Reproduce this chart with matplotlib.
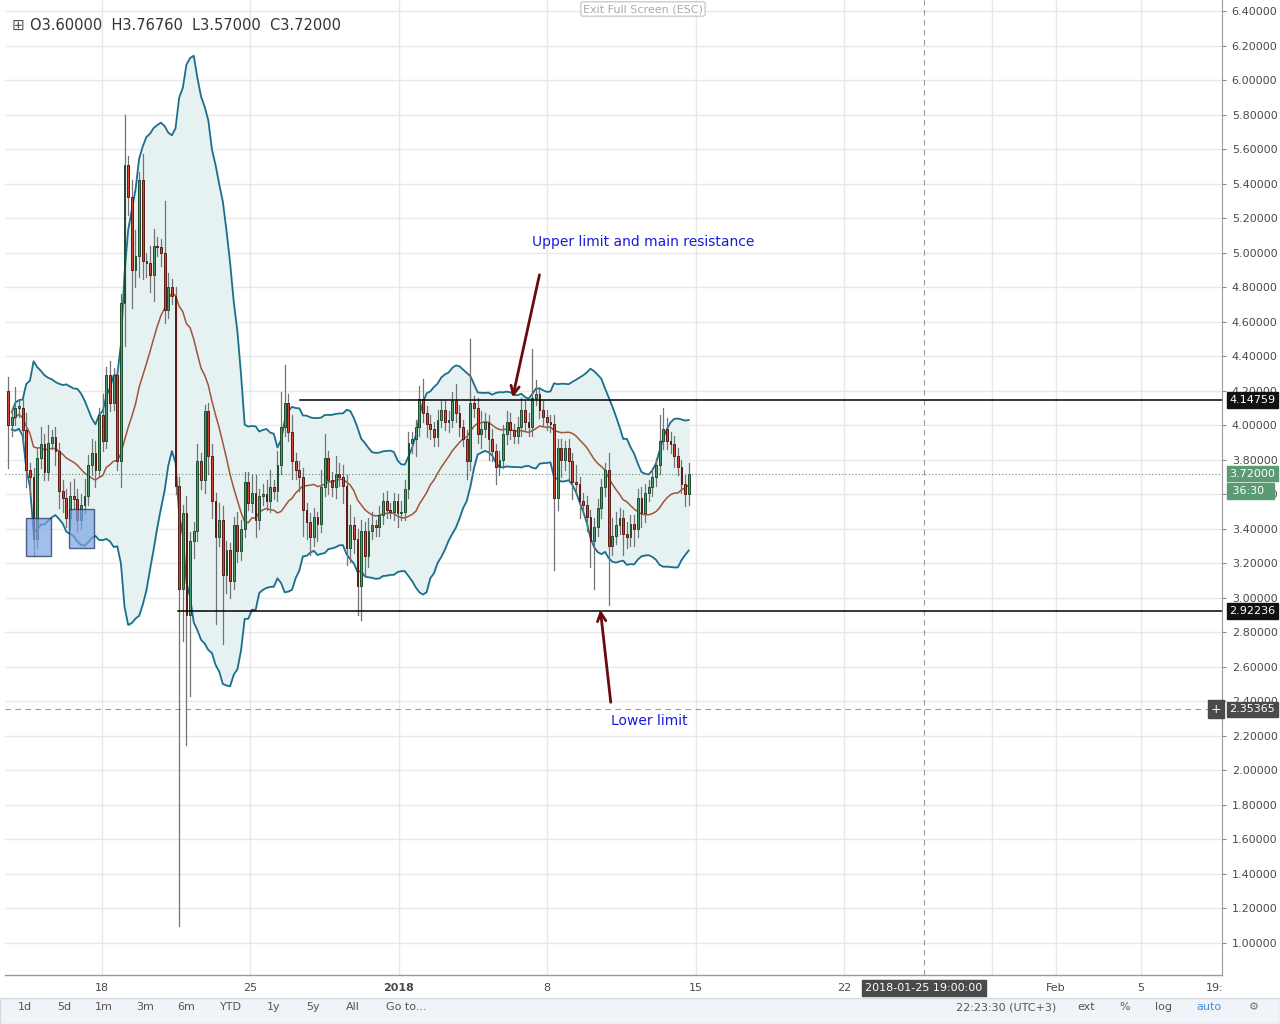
import numpy as np
import pandas as pd
import matplotlib
matplotlib.use("Agg")
import matplotlib.pyplot as plt
from matplotlib.patches import Rectangle
from matplotlib.transforms import blended_transform_factory as btf

first_open = 4.20
closes = [4.00,4.05,4.10,4.10,3.97,3.74,3.70,3.34,3.81,3.89,
          3.73,3.90,3.93,3.85,3.62,3.58,3.46,3.59,3.57,3.45,
          3.54,3.59,3.77,3.84,3.74,4.06,3.91,4.29,4.13,4.29,
          3.79,4.71,5.51,5.32,4.90,4.98,5.42,4.95,4.94,4.87,
          5.04,5.03,5.00,4.67,4.80,4.75,3.65,3.05,3.49,2.90,
          3.33,3.39,3.79,3.68,4.08,3.82,3.56,3.35,3.45,3.13,
          3.28,3.10,3.42,3.27,3.40,3.67,3.55,3.61,3.45,3.59,
          3.60,3.56,3.64,3.62,3.77,3.99,4.13,3.96,3.79,3.74,
          3.70,3.51,3.44,3.35,3.47,3.43,3.64,3.81,3.68,3.64,
          3.72,3.70,3.65,3.29,3.42,3.34,3.07,3.39,3.24,3.39,
          3.42,3.41,3.48,3.56,3.51,3.50,3.56,3.49,3.50,3.63,
          3.90,3.92,3.99,4.15,4.07,4.01,3.98,3.93,4.03,4.09,
          4.02,4.03,4.14,4.07,3.99,3.92,3.79,4.13,4.10,3.95,
          3.98,4.02,3.92,3.85,3.76,3.80,3.95,4.02,3.97,3.94,
          3.99,4.09,4.02,3.99,4.16,4.18,4.09,4.05,4.02,4.01,
          3.58,3.87,3.80,3.87,3.79,3.67,3.66,3.56,3.54,3.47,
          3.33,3.41,3.52,3.64,3.74,3.30,3.36,3.42,3.46,3.37,
          3.35,3.43,3.40,3.58,3.49,3.61,3.64,3.70,3.77,3.91,
          3.98,3.91,3.89,3.82,3.76,3.66,3.60,3.72]
upper_wick = [.08,.05,.12,.05,.06,.10,.04,.05,.05,.10,
              .06,.10,.04,.06,.05,.06,.05,.08,.10,.06,
              .06,.10,.06,.08,.07,.04,.12,.05,.08,.04,
              .04,.05,.29,.05,.10,.15,.05,.15,.05,.10,
              .10,.05,.05,.30,.08,.05,.05,.05,.05,.10,
              .05,.05,.10,.05,.04,.05,.07,.05,.10,.08,
              .05,.04,.05,.08,.05,.06,.06,.10,.10,.04,
              .06,.08,.10,.04,.08,.20,.22,.05,.10,.05,
              .05,.05,.04,.05,.05,.03,.10,.14,.04,.05,
              .10,.06,.07,.06,.12,.05,.06,.06,.05,.07,
              .08,.03,.05,.05,.06,.04,.05,.04,.06,.05,
              .06,.04,.04,.08,.12,.04,.05,.04,.06,.05,
              .05,.05,.05,.10,.05,.04,.05,.37,.04,.06,
              .10,.05,.04,.06,.04,.05,.05,.06,.05,.04,
              .06,.07,.05,.05,.28,.08,.04,.05,.04,.04,
              .05,.05,.05,.04,.05,.05,.10,.04,.05,.05,
              .04,.05,.05,.05,.04,.10,.10,.08,.06,.05,
              .07,.05,.05,.05,.06,.05,.04,.05,.04,.15,
              .12,.06,.05,.05,.05,.04,.05,.06]
lower_wick = [.25,.06,.05,.05,.08,.10,.10,.10,.05,.06,
              .05,.05,.04,.08,.10,.08,.05,.06,.05,.06,
              .05,.05,.05,.06,.10,.04,.06,.04,.05,.04,
              .05,.15,.25,.10,.22,.10,.12,.10,.08,.10,
              .15,.05,.08,.08,.05,.05,.05,1.95,.30,.75,
              .47,.10,.06,.05,.07,.10,.10,.50,.05,.40,
              .10,.10,.05,.06,.05,.05,.04,.05,.10,.05,
              .05,.05,.06,.05,.06,.05,.05,.05,.10,.05,
              .08,.15,.10,.10,.05,.10,.05,.05,.08,.05,
              .06,.05,.10,.10,.08,.08,.17,.20,.12,.06,
              .05,.05,.05,.05,.05,.04,.05,.08,.04,.05,
              .05,.06,.10,.05,.05,.08,.06,.05,.05,.04,
              .05,.06,.04,.05,.05,.04,.10,.05,.05,.05,
              .08,.05,.12,.06,.10,.05,.05,.06,.05,.04,
              .04,.05,.05,.05,.05,.04,.05,.05,.05,.05,
              .42,.07,.10,.06,.10,.10,.05,.10,.05,.08,
              .15,.28,.05,.06,.05,.34,.05,.05,.05,.12,
              .06,.05,.10,.05,.08,.05,.05,.05,.05,.05,
              .05,.05,.05,.06,.05,.05,.07,.06]

resistance = 4.14759
support = 2.92236
last_price = 3.72000
crosshair_price = 2.35365
tick_days = [18, 25, 32, 39, 46, 53, 63, 67]
tick_labels = ["18", "25", "2018", "8", "15", "22", "Feb", "5"]
price_ticks = np.round(np.arange(1.0, 6.41, 0.2), 2)

opens = [first_open] + closes[:-1]
n = len(closes)
x = 18 + (8 + 3.64 * np.arange(n) - 102) / 21.2
s = pd.Series(closes)
ma = s.rolling(20, min_periods=2).mean()
sd = s.rolling(20, min_periods=2).std(ddof=0)
up, lo = ma + 2 * sd, ma - 2 * sd

fig = plt.figure(figsize=(12.8, 10.24), dpi=100)
fig.patch.set_facecolor("white")
ax = fig.add_axes([5/1280, 49/1024, 1217/1280, 975/1024])
ax.set_xlim(13.42, 70.83)
ax.set_ylim(0.8146, 6.464)
for yv in price_ticks:
    ax.axhline(yv, color="#e8e8e8", lw=1, zorder=0)
for d in tick_days + [60]:
    ax.axvline(d, color="#e8e8e8", lw=1, zorder=0)

ax.fill_between(x, lo, up, color="#e6f2f2", zorder=1)
ax.plot(x, up, color="#1c6f8c", lw=1.3, zorder=2)
ax.plot(x, lo, color="#1c6f8c", lw=1.3, zorder=2)
ax.plot(x, ma, color="#a0553a", lw=1.1, zorder=2)

w = 0.085
for xi, o, c, uw, lw_ in zip(x, opens, closes, upper_wick, lower_wick):
    top, bot = max(o, c), min(o, c)
    ax.plot([xi, xi], [bot - lw_, top + uw], color="#737375", lw=0.9, zorder=3)
    if c >= o:
        fc, ec = "#4f9a6c", "#1d4d2f"
    else:
        fc, ec = "#d0462f", "#5b1a13"
    ax.add_patch(Rectangle((xi - w/2, bot), w, max(top - bot, 0.01), facecolor=fc, edgecolor=ec, lw=0.7, zorder=4))

def px2day(px):
    return 18 + (px - 102) / 21.2

def py2p(py):
    return 1 + (943 - py) / 172.6

ax.plot([px2day(300), 70.83], [resistance, resistance], color="black", lw=1.1, zorder=5)
ax.plot([px2day(178), 70.83], [support, support], color="black", lw=1.1, zorder=5)
ax.axhline(last_price, color="#5c8f70", lw=0.8, ls=(0, (1, 2)), zorder=2)
ax.axhline(crosshair_price, color="#9a9a9a", lw=0.8, ls=(0, (5, 4)), zorder=2)
ax.axvline(px2day(924), color="#9a9a9a", lw=0.8, ls=(0, (5, 4)), zorder=2)

for x0, x1, y0, y1 in [(26, 51, 556, 518), (69, 94, 548, 509)]:
    p0, p1 = py2p(y0), py2p(y1)
    ax.add_patch(Rectangle((px2day(x0), p0), px2day(x1) - px2day(x0), p1 - p0,
                           facecolor="#7aa3e5", alpha=0.7, edgecolor="#1a2a50", lw=1, zorder=6))

ax.annotate("", xy=(px2day(512), py2p(400)), xytext=(px2day(540), py2p(272)),
            arrowprops=dict(arrowstyle="->", color="#6b0a0a", lw=2, mutation_scale=15), zorder=7)
ax.annotate("", xy=(px2day(600), py2p(607)), xytext=(px2day(611), py2p(705)),
            arrowprops=dict(arrowstyle="->", color="#6b0a0a", lw=2, mutation_scale=15), zorder=7)
ax.text(px2day(643), py2p(242), "Upper limit and main resistance", color="#1a1adb", fontsize=10, ha="center", va="center")
ax.text(px2day(649), py2p(721), "Lower limit", color="#1a1adb", fontsize=10, ha="center", va="center")

ax.set_xticks([])
ax.yaxis.tick_right()
ax.set_yticks(price_ticks)
ax.set_yticklabels([f"{v:.5f}" for v in price_ticks], fontsize=8, color="#4a4a4a")
ax.tick_params(axis="y", length=3, pad=4, color="#888888")
for sp in ["top", "left", "bottom"]:
    ax.spines[sp].set_visible(False)
ax.spines["right"].set_color("#9a9a9a")

tr = btf(ax.transAxes, ax.transData)
def tag(y, txt, fc):
    ax.text(1.006, y, txt, transform=tr, fontsize=8, color="white", va="center", ha="left",
            bbox=dict(boxstyle="square,pad=0.25", fc=fc, ec=fc), zorder=10, clip_on=False)
tag(resistance, "4.14759", "#111111")
tag(support, "2.92236", "#111111")
tag(last_price, "3.72000", "#5a9a74")
tag(last_price - 0.1, " 36:30  ", "#5a9a74")
tag(crosshair_price, "2.35365", "#4a4a4a")
ax.text(0.995, crosshair_price, "+", transform=tr, fontsize=9, color="white", va="center", ha="center",
        bbox=dict(boxstyle="square,pad=0.2", fc="#4a4a4a", ec="#4a4a4a"), zorder=10, clip_on=False)

fig.text(12/1280, 1 - 25/1024, "\u229e", fontsize=11, color="#555555", va="center")
fig.text(30/1280, 1 - 25/1024, "O3.60000  H3.76760  L3.57000  C3.72000", fontsize=10.5, color="#333333", va="center")
fig.text(643/1280, 1 - 9/1024, "Exit Full Screen (ESC)", fontsize=8, color="#aaaaaa", ha="center", va="center",
         bbox=dict(boxstyle="round,pad=0.2", fc="white", ec="#cccccc"))

fig.add_artist(plt.Line2D([5/1280, 1222/1280], [49/1024, 49/1024], color="#9a9a9a", lw=1))
for d, lab in zip(tick_days, tick_labels):
    fig.text((102 + (d - 18) * 21.2) / 1280, 1 - 988/1024, lab, fontsize=8, color="#4a4a4a", ha="center", va="center",
             fontweight="bold" if lab == "2018" else "normal")
fig.text(1215/1280, 1 - 988/1024, "19:", fontsize=8, color="#4a4a4a", ha="center", va="center")
fig.text(924/1280, 1 - 988/1024, "2018-01-25 19:00:00", fontsize=8, color="white", ha="center", va="center",
         bbox=dict(boxstyle="square,pad=0.3", fc="#4a4a4a", ec="#4a4a4a"))
fig.add_artist(Rectangle((0, 0), 1, 26/1024, transform=fig.transFigure, fc="#f0f3f7", ec="#d6dbe2"))
for px, lab in [(25, "1d"), (64, "5d"), (104, "1m"), (145, "3m"), (186, "6m"), (231, "YTD"), (274, "1y"),
                (313, "5y"), (353, "All"), (406, "Go to...")]:
    fig.text(px/1280, 1 - 1007/1024, lab, fontsize=8, color="#555555", ha="center", va="center")
for px, lab, col in [(1006, "22:23:30 (UTC+3)", "#555555"), (1086, "ext", "#555555"), (1125, "%", "#555555"),
                     (1163, "log", "#555555"), (1209, "auto", "#3a8ee6"), (1254, "\u2699", "#777777")]:
    fig.text(px/1280, 1 - 1007/1024, lab, fontsize=8, color=col, ha="center", va="center")

fig.savefig("out.png", dpi=100)
